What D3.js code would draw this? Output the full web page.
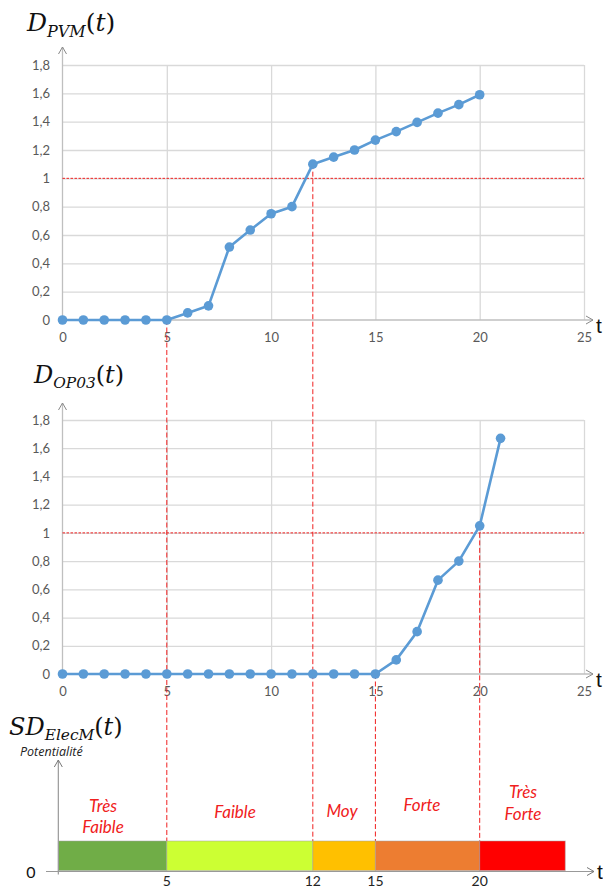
<!DOCTYPE html>
<html>
<head>
<meta charset="utf-8">
<script src="https://cdn.jsdelivr.net/npm/d3@7"></script>
<style>
body { margin: 0; background: #fff; }
svg { display: block; }
</style>
</head>
<body>
<svg width="603" height="887"></svg>
<script>
// data
var tPVM = [0,1,2,3,4,5,6,7,8,9,10,11,12,13,14,15,16,17,18,19,20];
var dPVM = [0,0,0,0,0,0,0.05,0.1,0.515,0.635,0.75,0.8,1.1,1.15,1.2,1.27,1.33,1.395,1.46,1.52,1.59];

var tOP03 = [0,1,2,3,4,5,6,7,8,9,10,11,12,13,14,15,16,17,18,19,20,21];
var dOP03 = [0,0,0,0,0,0,0,0,0,0,0,0,0,0,0,0,0.1,0.3,0.665,0.8,1.05,1.67];

var xTicks = [0,5,10,15,20,25];
var yTicks = [0,0.2,0.4,0.6,0.8,1,1.2,1.4,1.6,1.8];
var yTickLabels = ["0","0,2","0,4","0,6","0,8","1","1,2","1,4","1,6","1,8"];
var threshold = 1;

var levelNames = [["Très","Faible"],["Faible"],["Moy"],["Forte"],["Très","Forte"]];
var levelStart = [-0.2,5,12,15,20];
var levelEnd = [5,12,15,20,24.1];
var levelColors = ["#70ad47","#ccff33","#ffc000","#ed7d31","#ff0000"];

// crossings: which curve each dashed marker starts from
var markT = [5,12,15,20];
var markFrom = ["PVM","PVM","OP03","OP03"];
var markLabels = ["5","12","15","20"];

var svg = d3.select('svg');
var x = d3.scaleLinear().domain([0,25]).range([62.5,584]);

var yTop = d3.scaleLinear().domain([0,1.8]).range([320,65]);
var yBot = d3.scaleLinear().domain([0,1.8]).range([674,420]);

var gridCol = '#d9d9d9', axisCol = '#bfbfbf', blue = '#5b9bd5', red = '#f02020';

function title(gx, gy, main, sub, size) {
	var t = svg.append('text')
		.attr('x', gx).attr('y', gy)
		.style('font-family', '"DejaVu Serif", serif')
		.style('font-style', 'italic')
		.style('font-size', size + 'px')
		.attr('fill', '#111');
	t.append('tspan').text(main);
	t.append('tspan').text(sub).attr('dy', size*0.22).style('font-size', (size*0.64) + 'px');
	t.append('tspan').text('(').attr('dy', -size*0.22).style('font-style', 'normal');
	t.append('tspan').text('t');
	t.append('tspan').text(')').style('font-style', 'normal');
}

function chart(y, ts, vals, axisTop) {
	var g = svg.append('g');

	// grid
	g.append('g')
		.attr('transform', 'translate(' + x(0) + ',0)')
		.call(d3.axisLeft(y).tickValues(yTicks.slice(1)).tickSize(-(x(25) - x(0))).tickFormat(''))
		.call(function(s) { s.select('.domain').remove(); s.selectAll('line').attr('stroke', gridCol).attr('stroke-width', 1.3); });
	g.append('g')
		.attr('transform', 'translate(0,' + y(0) + ')')
		.call(d3.axisBottom(x).tickValues(xTicks.slice(1)).tickSize(-(y(0) - y(1.8))).tickFormat(''))
		.call(function(s) { s.select('.domain').remove(); s.selectAll('line').attr('stroke', gridCol).attr('stroke-width', 1.3); });

	// axes with arrows
	g.append('line').attr('x1', x(0)).attr('x2', x(0)).attr('y1', y(0)).attr('y2', axisTop)
		.attr('stroke', axisCol).attr('stroke-width', 1.3);
	g.append('path').attr('d', 'M' + (x(0)-4) + ',' + (axisTop+7) + 'L' + x(0) + ',' + axisTop + 'L' + (x(0)+4) + ',' + (axisTop+7))
		.attr('fill', 'none').attr('stroke', '#888');
	g.append('line').attr('x1', x(0)).attr('x2', 593).attr('y1', y(0)).attr('y2', y(0))
		.attr('stroke', axisCol).attr('stroke-width', 1.3);
	g.append('path').attr('d', 'M586,' + (y(0)-4) + 'L593,' + y(0) + 'L586,' + (y(0)+4))
		.attr('fill', 'none').attr('stroke', '#888');
	g.append('text').attr('x', 596).attr('y', y(0) + 13).text('t')
		.style('font-family', '"Liberation Sans", sans-serif').style('font-size', '21px').attr('fill', '#111');

	// tick labels
	g.append('g')
		.attr('transform', 'translate(50,0)')
		.call(d3.axisLeft(y).tickValues(yTicks).tickSize(0).tickFormat(function(d, i) { return yTickLabels[i]; }))
		.call(function(s) {
			s.select('.domain').remove();
			s.selectAll('text').attr('x', 0).attr('fill', '#595959')
				.style('font-family', 'Lato, sans-serif').style('font-size', '13px');
		});
	g.append('g')
		.attr('transform', 'translate(0,' + y(0) + ')')
		.call(d3.axisBottom(x).tickValues(xTicks).tickSize(0).tickPadding(13))
		.call(function(s) {
			s.select('.domain').remove();
			s.selectAll('text').attr('fill', '#595959')
				.style('font-family', 'Lato, sans-serif').style('font-size', '13px');
		});

	// threshold at 1
	g.append('line').attr('x1', x(0)).attr('x2', x(25)).attr('y1', y(threshold)).attr('y2', y(threshold))
		.attr('stroke', red).attr('stroke-width', 1).attr('stroke-dasharray', '2.5,1.5');
	return g;
}

var gTop = chart(yTop, tPVM, dPVM, 47);
var gBot = chart(yBot, tOP03, dOP03, 403);

// bar section
var barTop = 841, barBot = 870.5, axY = 871.5;
var xb0 = x(levelStart[0]);

// dashed markers from the curves down to the bar
var valAt = function(arrT, arrV, t) { return arrV[arrT.indexOf(t)]; };
svg.append('g').selectAll('line').data(markT).enter().append('line')
	.attr('x1', function(d) { return x(d); })
	.attr('x2', function(d) { return x(d); })
	.attr('y1', function(d, i) {
		return markFrom[i] == 'PVM' ? yTop(valAt(tPVM, dPVM, d)) : yBot(valAt(tOP03, dOP03, d) > 1 ? threshold : valAt(tOP03, dOP03, d));
	})
	.attr('y2', barTop)
	.attr('stroke', red).attr('stroke-width', 1).attr('stroke-dasharray', '5,2.5');

// series lines and points on top
function series(y, ts, vals) {
	var line = d3.line().x(function(d, i) { return x(ts[i]); }).y(function(d) { return y(d); });
	svg.append('path').datum(vals).attr('d', line)
		.attr('fill', 'none').attr('stroke', blue).attr('stroke-width', 2.6).attr('stroke-linejoin', 'round');
	svg.append('g').selectAll('circle').data(vals).enter().append('circle')
		.attr('cx', function(d, i) { return x(ts[i]); })
		.attr('cy', function(d) { return y(d); })
		.attr('r', 4.8).attr('fill', blue);
}
series(yTop, tPVM, dPVM);
series(yBot, tOP03, dOP03);

title(27, 31, 'D', 'PVM', 25);
title(34, 383, 'D', 'OP03', 24);
title(9, 735, 'SD', 'ElecM', 24);

svg.append('text').attr('x', 20).attr('y', 756).text('Potentialité')
	.style('font-family', '"Open Sans", sans-serif').style('font-style', 'italic').style('font-size', '12.5px').attr('fill', '#222');

// level bar
svg.append('g').selectAll('rect').data(levelColors).enter().append('rect')
	.attr('x', function(d, i) { return x(levelStart[i]); })
	.attr('width', function(d, i) { return x(levelEnd[i]) - x(levelStart[i]); })
	.attr('y', barTop).attr('height', barBot - barTop)
	.attr('fill', function(d) { return d; })
	.attr('stroke', '#a0a0a0').attr('stroke-opacity', 0.5).attr('stroke-width', 1);

// axes of the bar section
svg.append('line').attr('x1', xb0).attr('x2', xb0).attr('y1', axY + 3).attr('y2', 760)
	.attr('stroke', '#999').attr('stroke-width', 1.2);
svg.append('path').attr('d', 'M' + (xb0-4) + ',767L' + xb0 + ',760L' + (xb0+4) + ',767')
	.attr('fill', 'none').attr('stroke', '#777');
svg.append('line').attr('x1', 46).attr('x2', 594).attr('y1', axY).attr('y2', axY)
	.attr('stroke', '#999').attr('stroke-width', 1.2);
svg.append('path').attr('d', 'M587,' + (axY-4) + 'L594,' + axY + 'L587,' + (axY+4))
	.attr('fill', 'none').attr('stroke', '#777');
svg.append('text').attr('x', 597).attr('y', axY + 7).text('t')
	.style('font-family', '"Liberation Sans", sans-serif').style('font-size', '21px').attr('fill', '#111');
svg.append('text').attr('x', 31).attr('y', axY + 6).attr('text-anchor', 'middle').text('0')
	.style('font-family', 'Lato, sans-serif').style('font-size', '16px').attr('fill', '#111');

svg.append('g').selectAll('text').data(markT).enter().append('text')
	.attr('x', function(d) { return x(d); }).attr('y', 885.5)
	.attr('text-anchor', 'middle')
	.text(function(d, i) { return markLabels[i]; })
	.style('font-family', 'Lato, sans-serif').style('font-size', '14px').attr('fill', '#222');

// level names
var nameY = [[807,828],[813],[812],[806],[793,815]];
var nameX = [103,235,342,422,523];
levelNames.forEach(function(lines, i) {
	var t = svg.append('text').attr('text-anchor', 'middle')
		.style('font-family', 'Lato, sans-serif').style('font-style', 'italic').style('font-size', '17px')
		.attr('fill', red);
	lines.forEach(function(s, j) {
		t.append('tspan').attr('x', nameX[i]).attr('y', nameY[i][j] + 5).text(s);
	});
});
</script>
</body>
</html>
